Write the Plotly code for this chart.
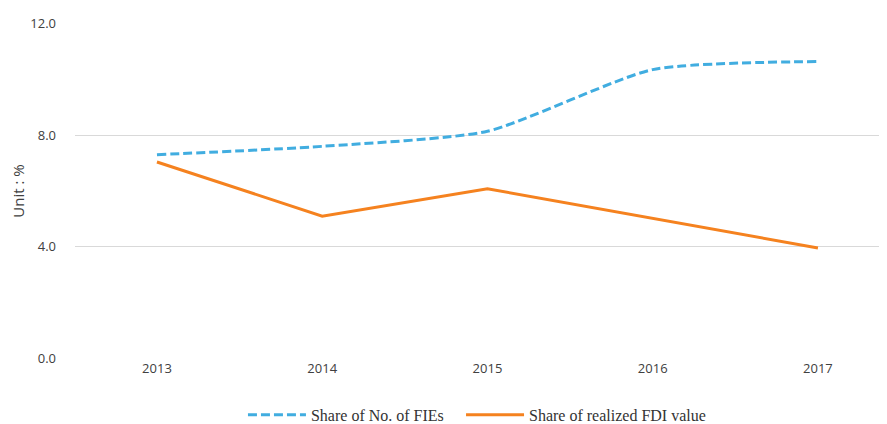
import plotly.graph_objects as go

years = ["2013", "2014", "2015", "2016", "2017"]
share_fies = [7.3, 7.6, 8.14, 10.35, 10.64]
share_fdi = [7.04, 5.1, 6.08, 5.01, 3.96]
y_ticks = [0, 4, 8, 12]

fig = go.Figure()
fig.add_trace(go.Scatter(
    x=years, y=share_fies, mode="lines", name="Share of No. of FIEs", legend="legend",
    line=dict(color="#41ADE0", width=3, dash="9px,4px", shape="spline", smoothing=0.6),
))
fig.add_trace(go.Scatter(
    x=years, y=share_fdi, mode="lines", name="Share of realized FDI value", legend="legend2",
    line=dict(color="#F5821F", width=3),
))

legend_font = dict(family="Liberation Serif, serif", size=16, color="#333333")
fig.update_layout(
    width=879, height=416,
    margin=dict(l=67, r=0, t=15, b=65, autoexpand=False),
    paper_bgcolor="white", plot_bgcolor="white",
    font=dict(family="Open Sans, DejaVu Sans, sans-serif", size=13, color="#404040"),
    showlegend=True,
    legend=dict(
        orientation="h", x=0.2673, xanchor="left", y=0.022, yanchor="middle",
        yref="container", xref="container", font=legend_font, itemwidth=58,
    ),
    legend2=dict(
        orientation="h", x=0.5154, xanchor="left", y=0.022, yanchor="middle",
        yref="container", xref="container", font=legend_font, itemwidth=58,
    ),
    xaxis=dict(
        type="category", range=[-0.496, 4.418], automargin=False,
        showgrid=False, zeroline=False, showline=False, ticks="",
        tickfont=dict(size=13, color="#404040"),
    ),
    yaxis=dict(
        range=[-0.02, 12.02], tickvals=y_ticks, tickformat=".1f", automargin=False,
        showgrid=True, gridcolor="#D9D9D9", gridwidth=1.3,
        zeroline=False, showline=False, ticks="", ticklabelstandoff=18,
        title=dict(text="Unit : %", font=dict(size=15, color="#404040"), standoff=14),
        tickfont=dict(size=13, color="#404040"),
    ),
)

fig.write_html("out.html")
